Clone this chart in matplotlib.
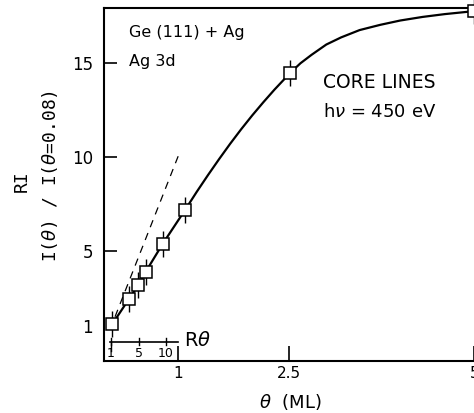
import matplotlib.pyplot as plt

# measured points (theta in ML, relative intensity)
theta_pts = [0.11, 0.33, 0.46, 0.56, 0.79, 1.09, 2.51, 5.0]
ri_pts = [1.12, 2.43, 3.18, 3.90, 5.39, 7.18, 14.48, 17.78]
ri_err = [0.7, 0.7, 0.7, 0.7, 0.7, 0.7, 0.7, 0.7]

# hand-drawn guide curve
theta_curve = [0.11, 0.33, 0.46, 0.56, 0.79, 1.09, 1.25, 1.4, 1.55, 1.7,
               1.85, 2.0, 2.15, 2.3, 2.51, 2.65, 2.8, 3.0, 3.2, 3.45,
               3.73, 4.0, 4.3, 4.6, 5.0]
ri_curve = [1.12, 2.43, 3.18, 3.90, 5.39, 7.18, 8.16, 9.04, 9.89, 10.71,
            11.49, 12.23, 12.93, 13.60, 14.48, 15.0, 15.45, 16.0, 16.38, 16.77,
            17.05, 17.28, 17.47, 17.62, 17.78]

# initial-slope dashed line
theta_dash = [0.145, 1.0]
ri_dash = [1.5, 10.07]

# R*theta secondary scale
rtheta_labels = ["1", "5", "10"]
rtheta_pos = [0.09, 0.47, 0.83]

plt.rcParams['font.family'] = ['DejaVu Sans']

fig = plt.figure(figsize=(4.74, 4.13), dpi=100)
ax = fig.add_axes([104.3 / 474, (413 - 360.7) / 413, 370 / 474, (360.7 - 8.3) / 413])

ax.plot(theta_curve, ri_curve, color="black", lw=1.6, clip_on=False, zorder=2)
ax.plot(theta_dash, ri_dash, color="black", lw=0.9, dashes=(6, 5))
ax.errorbar(theta_pts, ri_pts, yerr=ri_err, fmt="s", ms=8, mfc="white",
            mec="black", mew=1.1, ecolor="black", elinewidth=1.0, capsize=0,
            clip_on=False, zorder=3)

ax.set_xlim(0, 5.0)
ax.set_ylim(-0.84, 17.93)
ax.spines['right'].set_visible(False)
for s in ['top', 'left', 'bottom']:
    ax.spines[s].set_linewidth(1.5)

ax.set_xticks([1, 2.5, 5])
ax.set_xticklabels(["1", "2.5", "5"])
ax.set_yticks([1, 5, 10, 15])
ax.set_yticklabels(["1", "5", "10", "15"])
ax.tick_params(axis='x', direction='in', length=11, width=1.2, labelsize=11, pad=4)
ax.tick_params(axis='y', direction='in', length=9, width=1.2, labelsize=12, pad=8)
ax.get_yticklines()[0].set_visible(False)
ax.get_yticklines()[1].set_visible(False)
ax.get_yticklabels()[0].set_y(0.6)

# R*theta inset scale
ax.plot([0.08, 1.0], [0.18, 0.18], color="black", lw=1.2)
for p, lab in zip(rtheta_pos, rtheta_labels):
    ax.plot([p, p], [0.0, 0.38], color="black", lw=1.0)
    ax.text(p, -0.1, lab, ha="center", va="top", fontsize=9)
ax.plot([0.09, 0.09], [-0.3, 0.18], color="black", lw=1.0)
ax.text(1.08, 0.25, "R$\\theta$", fontsize=14, ha="left", va="center")

ax.text(0.33, 16.66, "Ge (111) + Ag", fontsize=11.5, va="center")
ax.text(0.33, 15.07, "Ag 3d", fontsize=11.5, va="center")
ax.text(2.95, 14.0, "CORE LINES", fontsize=13.5, va="center")
ax.text(2.95, 12.4, "h$\\nu$ = 450 eV", fontsize=13, va="center")

fig.text(22 / 474, 1 - 181 / 413, "RI", rotation=90, fontsize=13,
         family="DejaVu Sans Mono", ha="center", va="center")
fig.text(50 / 474, 1 - 176 / 413, "I($\\theta$) / I($\\theta$=0.08)",
         rotation=90, fontsize=13, family="DejaVu Sans Mono",
         ha="center", va="center")
fig.text(290 / 474, 1 - 402 / 413, "$\\theta$  (ML)", fontsize=13,
         ha="center", va="center")

fig.savefig("out.png", dpi=100)
